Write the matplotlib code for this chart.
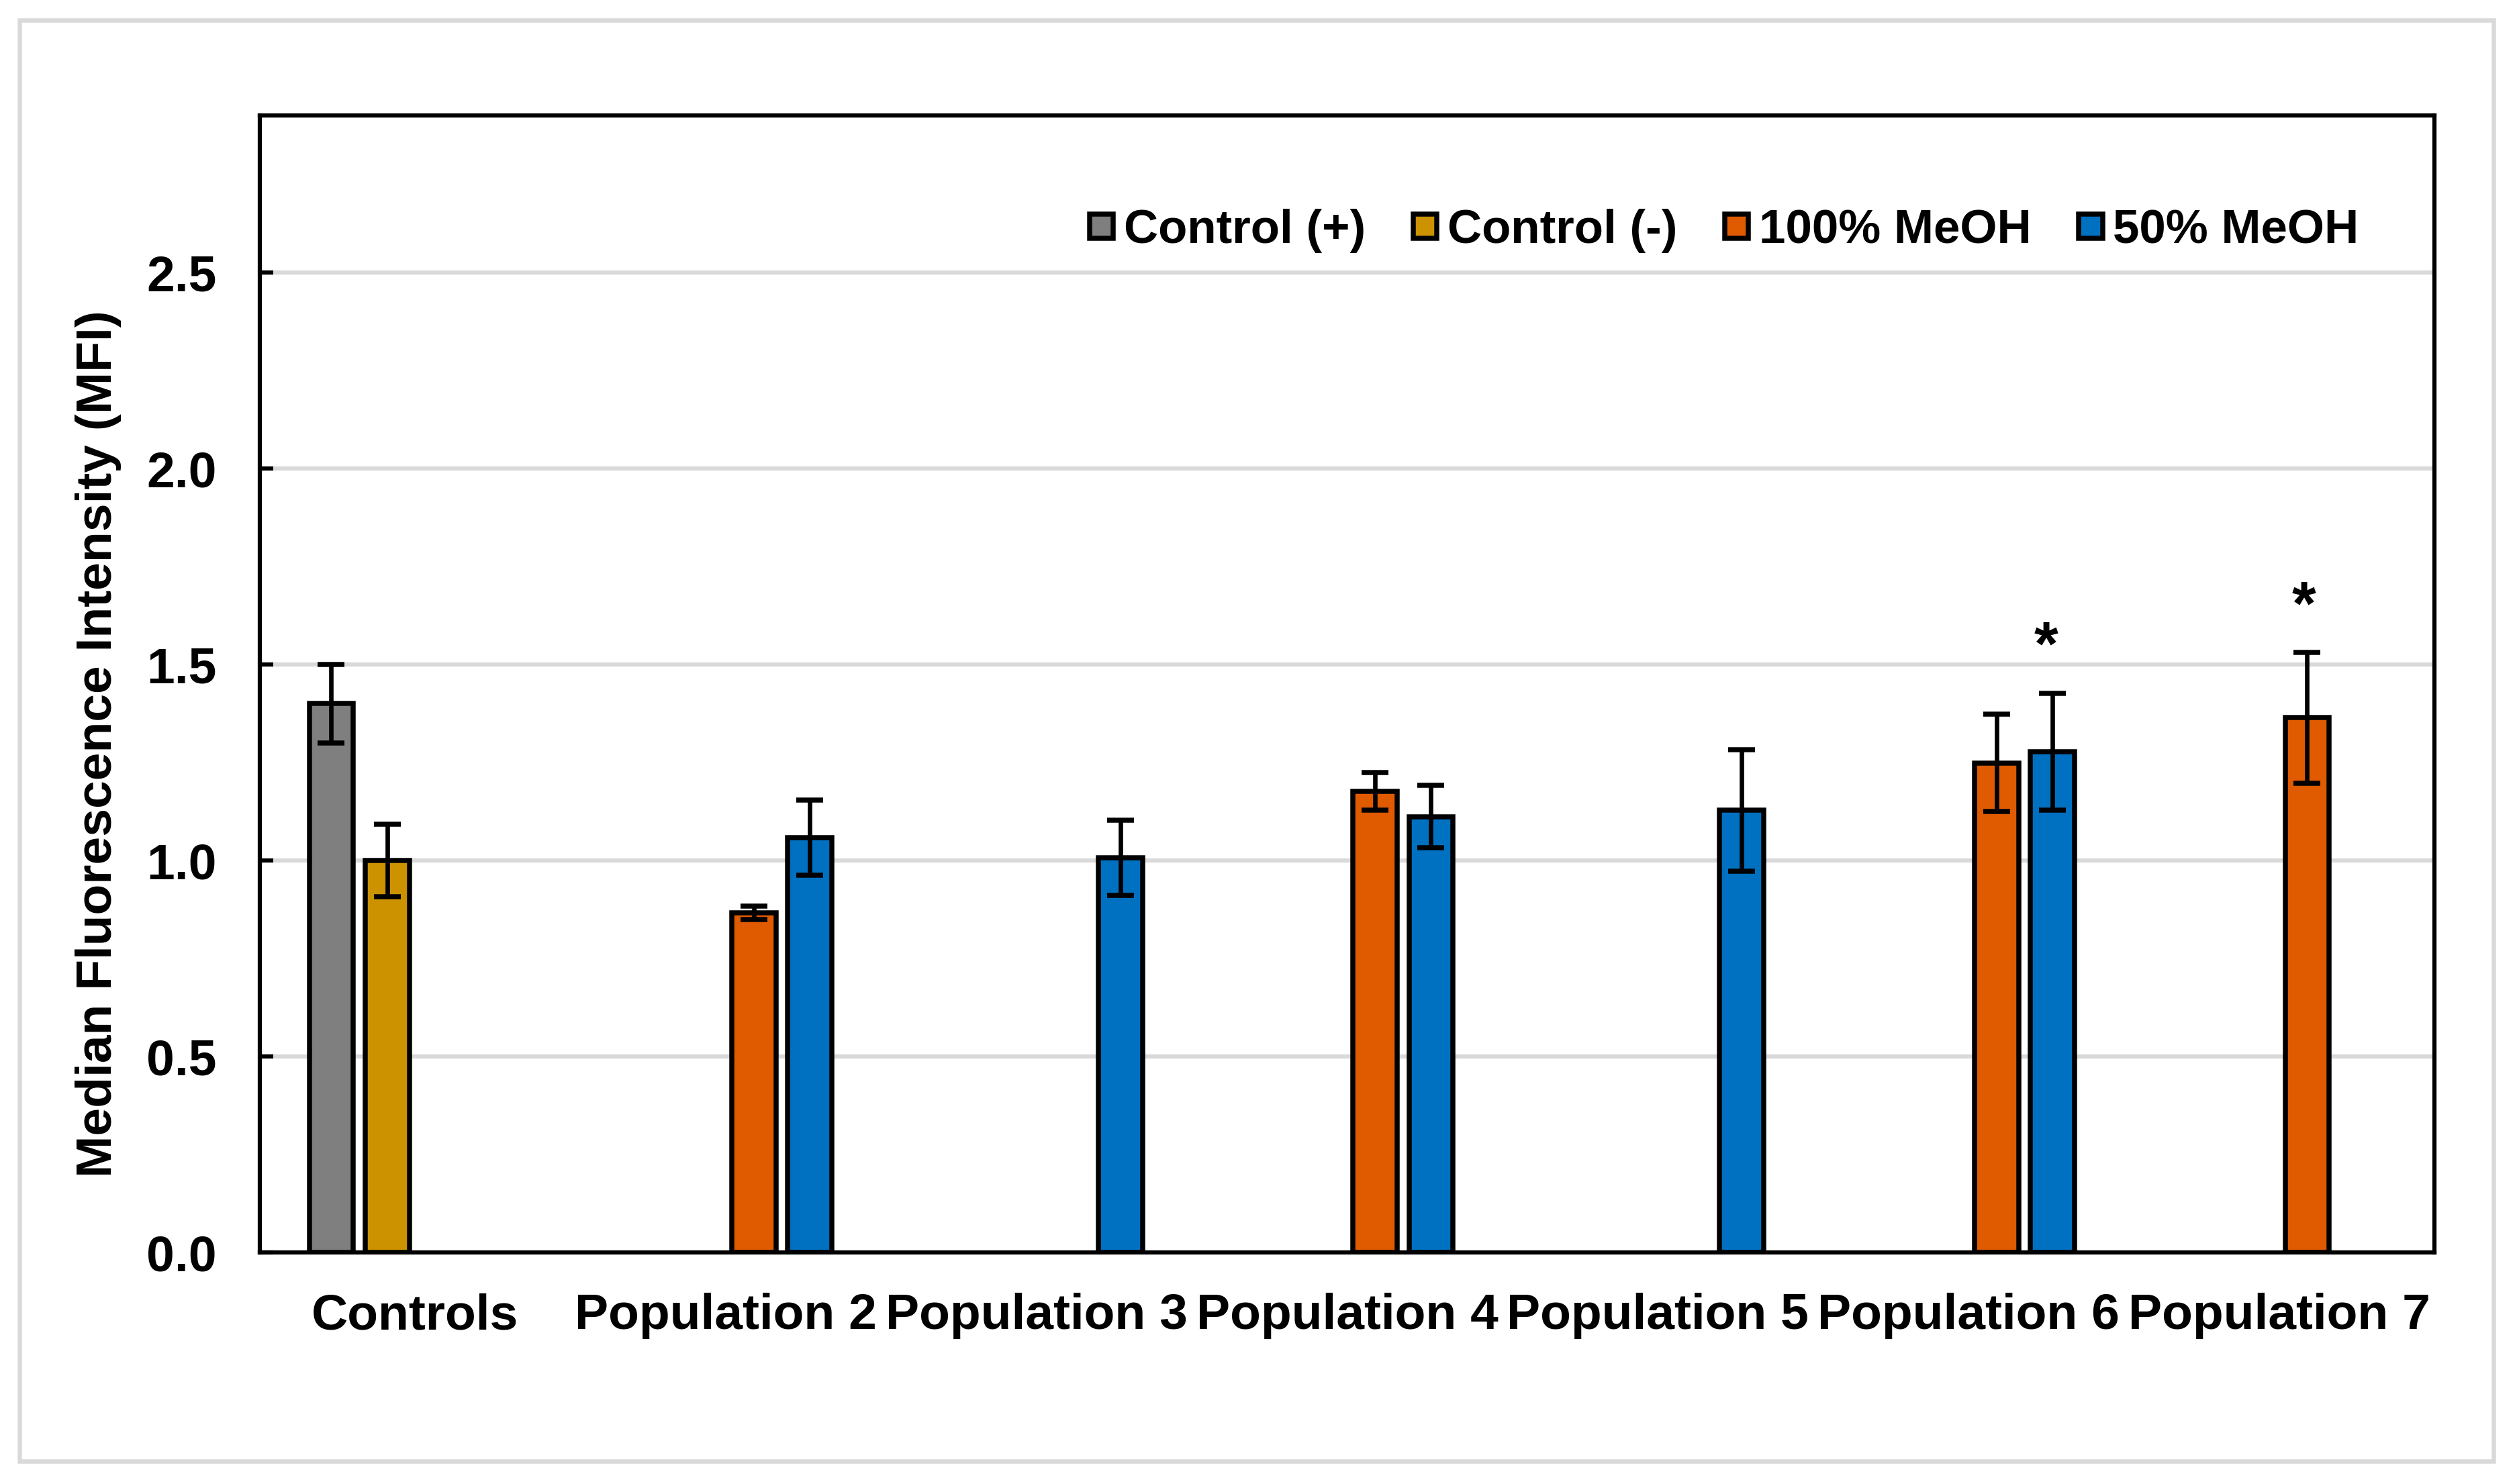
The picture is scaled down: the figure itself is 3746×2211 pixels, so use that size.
import numpy as np
import matplotlib
matplotlib.use('Agg')
import matplotlib.pyplot as plt
from matplotlib.patches import Rectangle

plt.rcParams['font.family'] = ['Liberation Sans', 'DejaVu Sans']
plt.rcParams['font.weight'] = 'bold'

nan = np.nan
categories = ['Controls', 'Population 2', 'Population 3', 'Population 4',
              'Population 5', 'Population 6', 'Population 7']
series_names = ['Control (+)', 'Control (-)', '100% MeOH', '50% MeOH']
series_colors = ['#7F7F7F', '#CC9200', '#E05A00', '#0070C0']

ctrl_pos = [1.40, nan, nan, nan, nan, nan, nan]
ctrl_pos_err = [0.10, nan, nan, nan, nan, nan, nan]
ctrl_neg = [1.00, nan, nan, nan, nan, nan, nan]
ctrl_neg_err = [0.092, nan, nan, nan, nan, nan, nan]
meoh100 = [nan, 0.866, nan, 1.177, nan, 1.249, 1.364]
meoh100_err = [nan, 0.017, nan, 0.048, nan, 0.124, 0.167]
meoh50 = [nan, 1.058, 1.007, 1.112, 1.128, 1.277, nan]
meoh50_err = [nan, 0.096, 0.096, 0.080, 0.155, 0.149, nan]

# significance marks: x position (category units) and height of the star
star_x = [5.25, 6.08]
star_y = [1.589, 1.691]

values = [ctrl_pos, ctrl_neg, meoh100, meoh50]
errors = [ctrl_pos_err, ctrl_neg_err, meoh100_err, meoh50_err]

fig = plt.figure(figsize=(3746/300, 2211/300), dpi=300)
ax = fig.add_axes([0.1033, 0.1560, 0.8647, 0.7660])

# light grey frame around the whole chart
fig.patches.append(Rectangle((0.00761, 0.01538), 0.9839, 0.9711, transform=fig.transFigure,
                             fill=False, edgecolor='#D9D9D9', linewidth=1.56, zorder=0))

x = np.arange(len(categories))
offsets = [-0.27, -0.09, 0.09, 0.27]
width = 0.142
for vals, errs, off, col, name in zip(values, errors, offsets, series_colors, series_names):
    vals = np.array(vals)
    errs = np.array(errs)
    ax.bar(x + off, vals, width, color=col, edgecolor='black', linewidth=1.8, label=name, zorder=2)
    m = ~np.isnan(vals)
    ax.errorbar(x[m] + off, vals[m], yerr=errs[m], fmt='none', ecolor='black',
                elinewidth=1.6, capsize=4.7, capthick=1.8, zorder=3)

fs_star = 22
for sx, sy in zip(star_x, star_y):
    ax.annotate('*', xy=(sx, sy), xytext=(0, -0.57*fs_star), textcoords='offset points',
                ha='center', va='baseline', fontsize=fs_star, fontweight='bold')

ax.set_xlim(-0.5, len(categories) - 0.5)
ax.set_ylim(0, 2.9)
ax.set_yticks(np.arange(0, 2.51, 0.5))
ax.set_yticklabels([f'{v:.1f}' for v in np.arange(0, 2.51, 0.5)])
ax.set_xticks(x)
ax.set_xticklabels(categories)
ax.tick_params(axis='y', direction='in', length=4.8, width=1.5, pad=15.4, labelsize=18)
ax.tick_params(axis='x', length=0, pad=14.4, labelsize=18)
ax.yaxis.grid(True, color='#D9D9D9', linewidth=1.5)
ax.set_axisbelow(True)
for s in ax.spines.values():
    s.set_linewidth(1.5)

ax.set_ylabel('Median Fluorescence Intensity (MFI)', fontsize=18, fontweight='bold')
ax.yaxis.set_label_coords(-0.0635, 0.4475)

ax.legend(loc='center right', bbox_to_anchor=(0.9762, 0.8986), ncol=4, frameon=False,
          fontsize=17, borderpad=0, handlelength=0.5, handleheight=0.4,
          handletextpad=0.22, columnspacing=1.0)

fig.savefig('out.png', dpi=300)
